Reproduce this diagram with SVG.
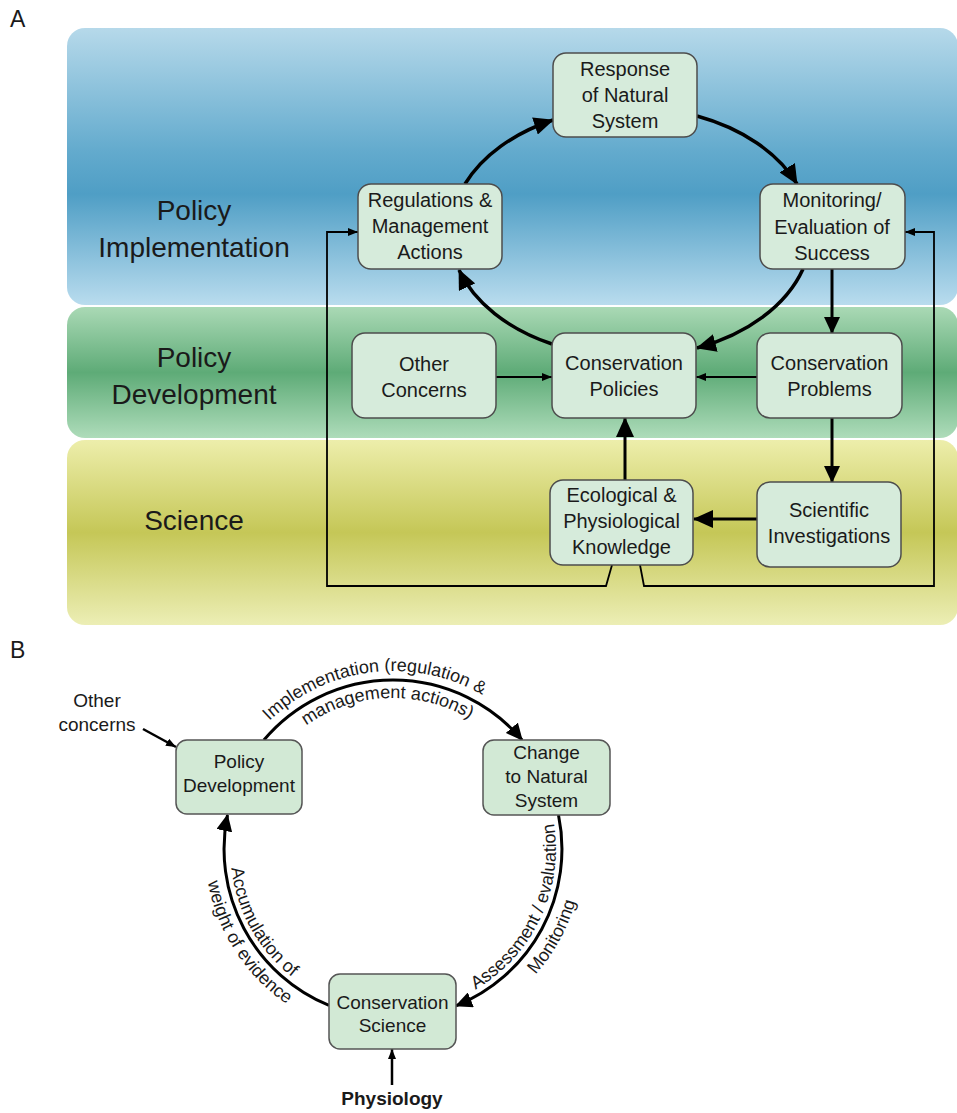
<svg xmlns="http://www.w3.org/2000/svg" width="957" height="1113" viewBox="0 0 957 1113">
<defs>
<linearGradient id="gBlue" x1="0" y1="0" x2="0" y2="1">
<stop offset="0" stop-color="#b6d9ea"/><stop offset="0.45" stop-color="#62aacd"/><stop offset="0.6" stop-color="#4f9ec5"/><stop offset="1" stop-color="#b9dcee"/>
</linearGradient>
<linearGradient id="gGreen" x1="0" y1="0" x2="0" y2="1">
<stop offset="0" stop-color="#aad9b5"/><stop offset="0.5" stop-color="#5eab77"/><stop offset="1" stop-color="#aedcba"/>
</linearGradient>
<linearGradient id="gYellow" x1="0" y1="0" x2="0" y2="1">
<stop offset="0" stop-color="#edeeab"/><stop offset="0.5" stop-color="#c5c757"/><stop offset="1" stop-color="#eceeb5"/>
</linearGradient>
<marker id="big" viewBox="0 0 20 18" refX="19" refY="9" markerWidth="20" markerHeight="18" orient="auto" markerUnits="userSpaceOnUse"><path d="M0,0 L20,9 L0,18 z" fill="#000"/></marker>
<marker id="mid" viewBox="0 0 17 16" refX="16" refY="8" markerWidth="17" markerHeight="16" orient="auto" markerUnits="userSpaceOnUse"><path d="M0,0 L17,8 L0,16 z" fill="#000"/></marker>
<marker id="small" viewBox="0 0 10 8" refX="10" refY="4" markerWidth="10" markerHeight="8" orient="auto" markerUnits="userSpaceOnUse"><path d="M0,0 L10,4 L0,8 z" fill="#000"/></marker>
<path id="tpTopOut" d="M215,849 A178,178 0 0 1 571,849"/>
<path id="tpTopIn" d="M242,849 A151,151 0 0 1 544,849"/>
<path id="tpLeftIn" d="M393,686 A163,163 0 0 0 393,1012"/>
<path id="tpLeftOut" d="M393,661 A188,188 0 0 0 393,1037"/>
<path id="tpRightIn" d="M393,1012 A163,163 0 0 0 393,686"/>
<path id="tpRightOut" d="M393,1039 A190,190 0 0 0 393,659"/>
</defs>
<style>
text{font-family:"Liberation Sans",Arial,sans-serif;fill:#1a1a1a}
.panel{font-size:23px}
.cat{font-size:28px;text-anchor:middle}
.nA{font-size:20px;text-anchor:middle}
.nB{font-size:19px;text-anchor:middle}
.arcT{font-size:18px}
.boxA{fill:#d6ebdb;stroke:#4d4d4d;stroke-width:1.5}
.boxB{fill:#d2e9d5;stroke:#555;stroke-width:1.5}
.thick{fill:none;stroke:#000;stroke-width:3.5}
.med{fill:none;stroke:#000;stroke-width:3}
.thin{fill:none;stroke:#000;stroke-width:1.8}
</style>
<rect width="957" height="1113" fill="#fff"/>

<g id="bands">
<rect x="67" y="28" width="891" height="277" rx="18" fill="url(#gBlue)"/>
<rect x="67" y="307" width="891" height="131" rx="18" fill="url(#gGreen)"/>
<rect x="67" y="440" width="891" height="185" rx="18" fill="url(#gYellow)"/>
</g>

<text class="panel" x="10" y="27">A</text>
<text class="panel" x="10" y="658">B</text>

<g id="labels">
<text class="cat" x="194" y="220">Policy</text>
<text class="cat" x="194" y="257">Implementation</text>
<text class="cat" x="194" y="367">Policy</text>
<text class="cat" x="194" y="404">Development</text>
<text class="cat" x="194" y="530">Science</text>
</g>

<g id="connectors">
<path class="thick" d="M465,184 A180,125 0 0 1 553,120" marker-end="url(#big)"/>
<path class="thick" d="M697,116 A180,125 0 0 1 797,184" marker-end="url(#big)"/>
<path class="thick" d="M803,269 A180,125 0 0 1 697,348" marker-end="url(#big)"/>
<path class="thick" d="M552,344 A180,125 0 0 1 459,270" marker-end="url(#big)"/>
<path class="med" d="M832,269 L832,333" marker-end="url(#mid)"/>
<path class="med" d="M832,418 L832,482" marker-end="url(#mid)"/>
<path class="med" d="M757,519 L694,519" marker-end="url(#big)"/>
<path class="med" d="M625,480 L625,418" marker-end="url(#big)"/>
<path class="thin" d="M496,377 L552,377" marker-end="url(#small)"/>
<path class="thin" d="M757,377 L696,377" marker-end="url(#small)"/>
<path class="thin" d="M612,565 L606,586 L327,586 L327,232 L358,232" marker-end="url(#small)"/>
<path class="thin" d="M640,565 L644,586 L934,586 L934,232 L905,232" marker-end="url(#small)"/>

<path class="med" d="M263.9,740 A169,169 0 0 1 522.1,740" marker-end="url(#mid)"/>
<path class="med" d="M558.5,815 A169,169 0 0 1 456,1005.8" marker-end="url(#mid)"/>
<path class="med" d="M329,1005.4 A169,169 0 0 1 227.5,815" marker-end="url(#mid)"/>
<path fill="none" stroke="#000" stroke-width="2.5" d="M143,729 L176,747" marker-end="url(#small)"/>
<path fill="none" stroke="#000" stroke-width="2.5" d="M392,1085 L392,1049" marker-end="url(#small)"/>
</g>

<g id="arc-labels" class="arcT">
<text><textPath href="#tpTopOut" startOffset="258" text-anchor="middle">Implementation (regulation &amp;</textPath></text>
<text><textPath href="#tpTopIn" startOffset="231" text-anchor="middle">management actions)</textPath></text>
<text><textPath href="#tpLeftIn" startOffset="339" text-anchor="middle">Accumulation of</textPath></text>
<text><textPath href="#tpLeftOut" startOffset="403" text-anchor="middle">weight of evidence</textPath></text>
<text><textPath href="#tpRightIn" startOffset="184" text-anchor="middle">Assessment / evaluation</textPath></text>
<text><textPath href="#tpRightOut" startOffset="203" text-anchor="middle">Monitoring</textPath></text>
</g>

<g id="n-response">
<rect class="boxA" x="553" y="53" width="144" height="84" rx="13"/>
<text class="nA" x="625" y="76">Response</text>
<text class="nA" x="625" y="102">of Natural</text>
<text class="nA" x="625" y="128">System</text>
</g>
<g id="n-regulations">
<rect class="boxA" x="358" y="184" width="144" height="85" rx="13"/>
<text class="nA" x="430" y="207">Regulations &amp;</text>
<text class="nA" x="430" y="233">Management</text>
<text class="nA" x="430" y="259">Actions</text>
</g>
<g id="n-monitoring">
<rect class="boxA" x="760" y="184" width="145" height="85" rx="13"/>
<text class="nA" x="832" y="207">Monitoring/</text>
<text class="nA" x="832" y="234">Evaluation of</text>
<text class="nA" x="832" y="260">Success</text>
</g>
<g id="n-other">
<rect class="boxA" x="352" y="333" width="144" height="85" rx="13"/>
<text class="nA" x="424" y="371">Other</text>
<text class="nA" x="424" y="397">Concerns</text>
</g>
<g id="n-policies">
<rect class="boxA" x="552" y="333" width="144" height="85" rx="13"/>
<text class="nA" x="624" y="370">Conservation</text>
<text class="nA" x="624" y="396">Policies</text>
</g>
<g id="n-problems">
<rect class="boxA" x="757" y="333" width="145" height="85" rx="13"/>
<text class="nA" x="829.5" y="370">Conservation</text>
<text class="nA" x="829.5" y="396">Problems</text>
</g>
<g id="n-knowledge">
<rect class="boxA" x="550" y="480" width="143" height="85" rx="13"/>
<text class="nA" x="621.5" y="502">Ecological &amp;</text>
<text class="nA" x="621.5" y="528">Physiological</text>
<text class="nA" x="621.5" y="554">Knowledge</text>
</g>
<g id="n-investigations">
<rect class="boxA" x="757" y="482" width="144" height="85" rx="13"/>
<text class="nA" x="829" y="517">Scientific</text>
<text class="nA" x="829" y="543">Investigations</text>
</g>

<g id="b-other">
<text class="nB" x="97" y="707">Other</text>
<text class="nB" x="97" y="731">concerns</text>
</g>
<g id="b-policy">
<rect class="boxB" x="176" y="740" width="126" height="74" rx="11"/>
<text class="nB" x="239" y="768">Policy</text>
<text class="nB" x="239" y="792">Development</text>
</g>
<g id="b-change">
<rect class="boxB" x="483" y="740" width="127" height="75" rx="11"/>
<text class="nB" x="546.5" y="759">Change</text>
<text class="nB" x="546.5" y="783">to Natural</text>
<text class="nB" x="546.5" y="807">System</text>
</g>
<g id="b-science">
<rect class="boxB" x="329" y="974" width="127" height="75" rx="11"/>
<text class="nB" x="392.5" y="1009">Conservation</text>
<text class="nB" x="392.5" y="1032">Science</text>
</g>
<g id="b-physiology">
<text class="nB" x="392" y="1105" font-weight="bold">Physiology</text>
</g>
</svg>
